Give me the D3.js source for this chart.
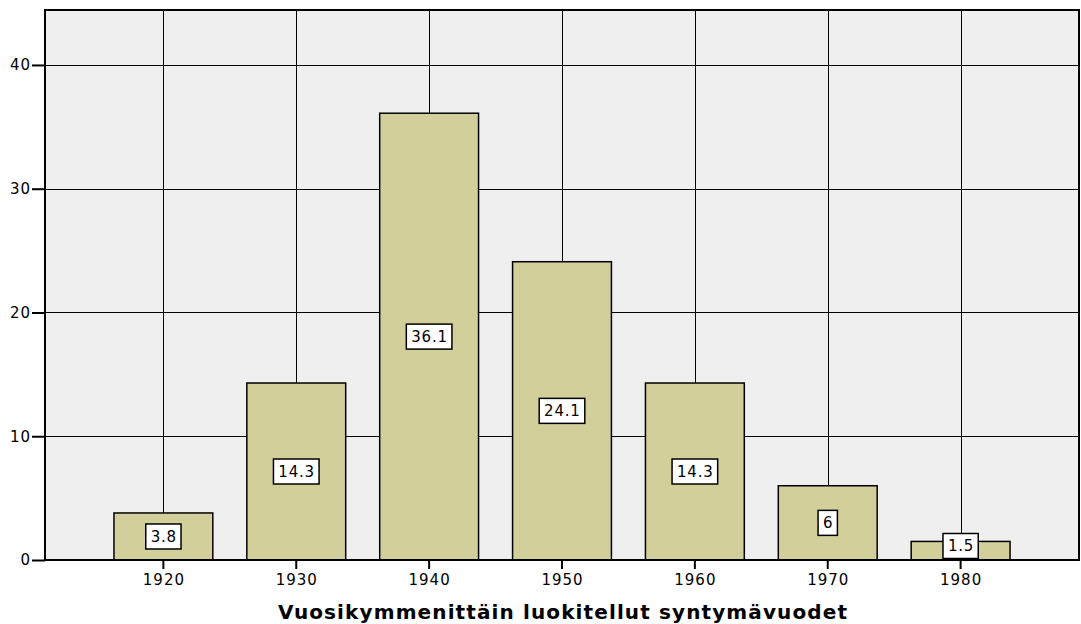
<!DOCTYPE html>
<html>
<head>
<meta charset="utf-8">
<script src="https://cdn.jsdelivr.net/npm/d3@7"></script>
<style>
  body { margin: 0; background: #fff; }
  text { font-family: "DejaVu Sans", Arial, sans-serif; fill: #000; }
</style>
</head>
<body>
<svg id="chart" width="1081" height="624"></svg>
<script>
(function () {
'use strict';

var decades = ["1920", "1930", "1940", "1950", "1960", "1970", "1980"];
var percents = [3.8, 14.3, 36.1, 24.1, 14.3, 6, 1.5];
var yTicks = [0, 10, 20, 30, 40];
var axisTitle = "Vuosikymmenittäin luokitellut syntymävuodet";

var FONT = "'DejaVu Sans', Arial, sans-serif";
var svg = d3.select("#chart");
var left = 45, right = 1079, top = 10, bottom = 560;

var x = d3.scaleBand()
    .domain(decades)
    .range([left, right])
    .paddingInner(0.256)
    .paddingOuter(0.519);

var y = d3.scaleLinear()
    .domain([0, 44.44])
    .range([bottom, top]);

// plot background
svg.append("rect")
    .attr("x", left).attr("y", top)
    .attr("width", right - left).attr("height", bottom - top)
    .attr("fill", "#efefef");

// horizontal grid
svg.append("g").selectAll("line")
    .data(yTicks.filter(function (d) { return d > 0; }))
    .enter().append("line")
    .attr("x1", left).attr("x2", right)
    .attr("y1", function (d) { return Math.round(y(d)) + 0.5; })
    .attr("y2", function (d) { return Math.round(y(d)) + 0.5; })
    .attr("stroke", "#000").attr("stroke-width", 1.2);

// vertical grid at category centres
svg.append("g").selectAll("line")
    .data(decades)
    .enter().append("line")
    .attr("x1", function (d) { return Math.round(x(d) + x.bandwidth() / 2) + 0.5; })
    .attr("x2", function (d) { return Math.round(x(d) + x.bandwidth() / 2) + 0.5; })
    .attr("y1", top).attr("y2", bottom)
    .attr("stroke", "#000").attr("stroke-width", 1);

// bars
svg.append("g").selectAll("rect")
    .data(percents)
    .enter().append("rect")
    .attr("x", function (d, i) { return x(decades[i]); })
    .attr("y", function (d) { return y(d); })
    .attr("width", x.bandwidth())
    .attr("height", function (d) { return bottom - y(d); })
    .attr("fill", "#d3cf9b")
    .attr("stroke", "#000")
    .attr("stroke-width", 1.5);

// frame
svg.append("rect")
    .attr("x", left).attr("y", top)
    .attr("width", right - left).attr("height", bottom - top)
    .attr("fill", "none")
    .attr("stroke", "#000")
    .attr("stroke-width", 2);

// value labels
var labels = svg.append("g").selectAll("g")
    .data(percents)
    .enter().append("g");

labels.each(function (d, i) {
    var g = d3.select(this);
    var cx = x(decades[i]) + x.bandwidth() / 2;
    var boxH = 25;
    var cy = Math.min((y(d) + bottom) / 2, bottom - boxH / 2 - 1.5);
    var t = g.append("text")
        .attr("x", cx + 0.4).attr("y", cy)
        .attr("text-anchor", "middle")
        .attr("dy", "0.36em")
        .style("font-family", FONT)
        .style("font-size", "15px")
        .style("letter-spacing", "0.8px")
        .text(String(d));
    var w = t.node().getComputedTextLength() + 9;
    g.insert("rect", "text")
        .attr("x", cx - w / 2).attr("y", cy - boxH / 2)
        .attr("width", w).attr("height", boxH)
        .attr("fill", "#fff")
        .attr("stroke", "#000")
        .attr("stroke-width", 1.5);
});

// y axis
var yAxis = svg.append("g")
    .attr("transform", "translate(" + left + ",0)")
    .call(d3.axisLeft(y).tickValues(yTicks).tickSize(13).tickPadding(1));
yAxis.select(".domain").remove();
yAxis.selectAll(".tick line").attr("stroke", "#000").attr("stroke-width", 2);
yAxis.selectAll(".tick text")
    .attr("fill", "#000")
    .style("font-size", "15px")
    .style("letter-spacing", "1px")
    .style("font-family", FONT);

// x axis
var xAxis = svg.append("g")
    .attr("transform", "translate(0," + bottom + ")")
    .call(d3.axisBottom(x).tickSize(9).tickPadding(5));
xAxis.select(".domain").remove();
xAxis.selectAll(".tick line").attr("stroke", "#000").attr("stroke-width", 2);
xAxis.selectAll(".tick text")
    .attr("fill", "#000")
    .attr("dx", "0.5px")
    .style("font-size", "15px")
    .style("letter-spacing", "1px")
    .style("font-family", FONT);

// axis title
svg.append("text")
    .attr("x", 278)
    .attr("y", 619)
    .attr("textLength", 569)
    .attr("lengthAdjust", "spacing")
    .style("font-family", FONT)
    .style("font-size", "20px")
    .style("font-weight", "bold")
    .text(axisTitle);
})();
</script>
</body>
</html>
